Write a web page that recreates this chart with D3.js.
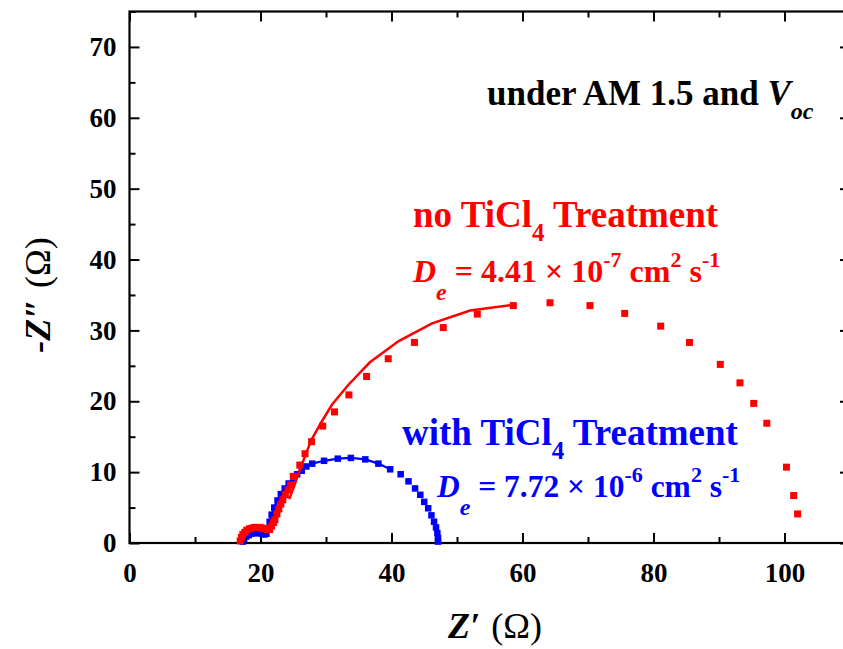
<!DOCTYPE html>
<html><head><meta charset="utf-8">
<script src="https://cdn.jsdelivr.net/npm/d3@7"></script>
<style>
html,body{margin:0;padding:0;background:#fff;}
svg text{white-space:pre;}
</style></head>
<body>
<svg id="chart" width="843" height="649"></svg>
<script>
// ---------- data (Z' in ohm, -Z'' in ohm) ----------
const redX = [16.9,17.1,17.3,17.6,17.9,18.3,18.7,19.1,19.5,19.9,20.3,20.7,21.1,21.4,21.7,22.0,22.2,22.5,22.8,23.1,23.4,23.8,24.2,24.6,25.0,26.0,26.8,27.8,29.5,31.3,33.5,36.2,39.5,43.5,47.9,53.1,58.6,64.2,70.3,75.6,81.1,85.5,90.2,93.2,95.3,97.3,100.3,101.4,102.0];
const redY = [0.3,0.8,1.2,1.5,1.8,2.0,2.1,2.2,2.2,2.2,2.1,2.0,1.9,1.9,2.4,2.9,3.3,4.1,4.8,5.5,6.1,6.8,7.5,8.2,9.4,11.0,12.6,14.3,16.5,18.5,20.9,23.5,26.0,28.3,30.4,32.3,33.5,33.9,33.5,32.4,30.6,28.3,25.2,22.6,19.7,16.9,10.7,6.7,4.1];
const redFitX = [24.4,25.2,26.0,26.9,27.8,29.2,30.9,33.4,36.7,41.1,46.2,52.0,58.6];
const redFitY = [6.2,8.2,10.3,12.5,14.6,16.9,19.5,22.3,25.5,28.5,31.0,32.8,33.6];

const blueX = [17.3,17.5,17.8,18.2,18.6,19.0,19.4,19.8,20.2,20.6,20.9,21.1,21.4,21.7,22.1,22.6,23.1,23.7,24.3,25.0,25.6,26.3,27.0,27.9,29.7,31.8,33.8,36.0,38.0,39.8,41.4,42.6,43.6,44.4,45.0,45.6,46.1,46.5,46.8,47.0,47.1,47.1];
const blueY = [0.2,0.6,0.9,1.1,1.3,1.4,1.4,1.4,1.3,1.2,1.3,2.0,3.0,4.0,5.0,6.0,6.9,7.7,8.4,9.1,9.7,10.2,10.8,11.2,11.6,11.9,12.0,11.8,11.2,10.4,9.7,8.7,7.7,6.8,5.8,4.9,3.9,3.0,2.2,1.4,0.7,0.2];
const blueFitX = [20.9,21.1,21.4,21.7,22.1,22.6,23.1,23.7,24.3,25.0,25.6,26.3,27.0,27.9,29.7,31.8,33.8,36.0,38.0,39.8];
const blueFitY = [1.2,2.0,3.0,4.0,5.0,6.0,6.9,7.7,8.4,9.1,9.7,10.2,10.8,11.2,11.6,11.9,12.0,11.8,11.2,10.4];

const xMajorTicks = [0,20,40,60,80,100];
const xMinorTicks = [10,30,50,70,90,110];
const yMajorTicks = [0,10,20,30,40,50,60,70];
const yMinorTicks = [5,15,25,35,45,55,65,75];

// ---------- layout ----------
const svg = d3.select("#chart");
const FONT = "'Liberation Serif','Times New Roman',serif";
const x = d3.scaleLinear().domain([0,110]).range([129.5,850]);
const y = d3.scaleLinear().domain([0,75]).range([543,11.5]);

const gAxes = svg.append("g");

// bottom
const gb = gAxes.append("g").attr("transform",`translate(0,${y(0)})`);
gb.call(d3.axisBottom(x).tickValues(xMajorTicks).tickSize(-10).tickPadding(20).tickFormat(d3.format("d")));
gb.append("g").call(d3.axisBottom(x).tickValues(xMinorTicks).tickSize(-6).tickFormat(""));
// top
const gt = gAxes.append("g").attr("transform",`translate(0,${y(75)})`);
gt.call(d3.axisTop(x).tickValues(xMajorTicks).tickSize(-10).tickFormat(""));
gt.append("g").call(d3.axisTop(x).tickValues(xMinorTicks).tickSize(-6).tickFormat(""));
// left
const gl = gAxes.append("g").attr("transform",`translate(${x(0)},0)`);
gl.call(d3.axisLeft(y).tickValues(yMajorTicks).tickSize(-10).tickPadding(13).tickFormat(d3.format("d")));
gl.append("g").call(d3.axisLeft(y).tickValues(yMinorTicks).tickSize(-6).tickFormat(""));
// right
const gr = gAxes.append("g").attr("transform",`translate(${x(110)},0)`);
gr.call(d3.axisRight(y).tickValues(yMajorTicks).tickSize(-10).tickFormat(""));
gr.append("g").call(d3.axisRight(y).tickValues(yMinorTicks).tickSize(-6).tickFormat(""));

gAxes.selectAll(".domain").remove();
gAxes.selectAll(".tick line").attr("stroke","#000").attr("stroke-width",2);
gAxes.selectAll(".tick text").attr("fill","#000")
  .style("font-family",FONT).style("font-weight","bold").style("font-size","27px");

// frame
gAxes.append("rect").attr("x",x(0)).attr("y",y(75))
  .attr("width",x(110)-x(0)).attr("height",y(0)-y(75))
  .attr("fill","none").attr("stroke","#000").attr("stroke-width",2.2);

// ---------- data marks ----------
const line = d3.line().x(d=>x(d[0])).y(d=>y(d[1]));
const zip = (a,b)=>a.map((v,i)=>[v,b[i]]);

function squares(data,color,s){
  svg.append("g").selectAll("rect").data(data).join("rect")
    .attr("x",d=>x(d[0])-s/2).attr("y",d=>y(d[1])-s/2)
    .attr("width",s).attr("height",s).attr("fill",color);
}
squares(zip(blueX,blueY),"#0000ff",6.5);
svg.append("path").attr("d",line(zip(blueFitX,blueFitY))).attr("fill","none")
  .attr("stroke","#0000ff").attr("stroke-width",2.2);
squares(zip(redX,redY),"#ff0000",7);
svg.append("path").attr("d",line(zip(redFitX,redFitY))).attr("fill","none")
  .attr("stroke","#ff0000").attr("stroke-width",2.5);

// ---------- text ----------
function rich(px,py,parts,color,size,anchor){
  const t = svg.append("text").attr("x",px).attr("y",py).attr("fill",color)
    .attr("text-anchor",anchor||"start")
    .style("font-family",FONT).style("font-weight","bold").style("font-size",size+"px");
  let cur = 0;
  parts.forEach(p=>{
    const target = p.dy||0;
    const s = t.append("tspan").text(p.t).attr("dy",target-cur);
    cur = target;
    if(p.dx) s.attr("dx",p.dx);
    if(p.fs) s.style("font-size",p.fs+"px");
    if(p.it) s.style("font-style","italic");
    if(p.nb) s.style("font-weight","normal");
  });
  return t;
}

rich(487,105,[{t:"under AM 1.5 and "},{t:"V",it:1},{t:"oc",it:1,dy:14,fs:24}],"#000",35);

rich(413,227,[{t:"no TiCl"},{t:"4",dy:14,fs:25},{t:" Treatment"}],"#ff0000",37);
rich(413,282,[{t:"D",it:1},{t:"e",it:1,dy:18,fs:24},{t:" = 4.41 × 10"},{t:"-7",dy:-15,fs:22},{t:" cm"},{t:"2",dy:-15,fs:22},{t:" s"},{t:"-1",dy:-15,fs:22}],"#ff0000",32);

rich(402,445,[{t:"with TiCl"},{t:"4",dy:14,fs:25},{t:" Treatment"}],"#0000ff",37);
rich(437,497,[{t:"D",it:1},{t:"e",it:1,dy:18,fs:24},{t:" = 7.72 × 10"},{t:"-6",dy:-15,fs:22},{t:" cm"},{t:"2",dy:-15,fs:22},{t:" s"},{t:"-1",dy:-15,fs:22}],"#0000ff",31.5);

// axis titles
rich(495,638,[{t:"Z′",it:1},{t:" (Ω)",nb:1,dx:2}],"#000",36,"middle");
const yt = rich(0,0,[{t:"-Z″",it:1},{t:" (Ω)",nb:1,dx:2}],"#000",36,"middle");
yt.attr("transform","translate(50,295) rotate(-90)");
</script>
</body></html>
